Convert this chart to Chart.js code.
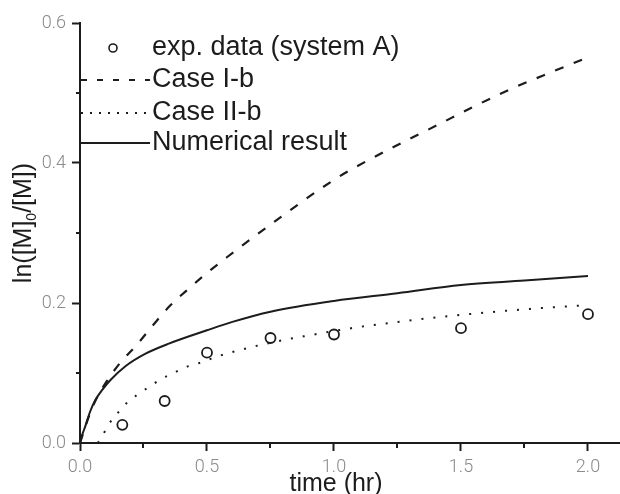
<!DOCTYPE html>
<html><head><meta charset="utf-8">
<script src="https://cdn.jsdelivr.net/npm/chart.js@4.4.1/dist/chart.umd.min.js"></script>
<style>html,body{margin:0;padding:0;background:#fff;}#wrap{width:620px;height:494px;}</style>
</head><body><div id="wrap"><canvas id="c" width="620" height="494"></canvas></div>
<script>
// ---- data ----
const expTime  = [0.1667, 0.3333, 0.5, 0.75, 1.0, 1.5, 2.0];
const expValue = [0.026, 0.060, 0.129, 0.150, 0.155, 0.164, 0.184];

const caseIbTime  = [0, 0.03, 0.06, 0.105, 0.157, 0.223, 0.289, 0.354, 0.433, 0.5, 0.577, 0.75, 1.0, 1.089, 1.252, 1.406, 1.547, 1.705, 1.85, 2.0];
const caseIbValue = [0, 0.033, 0.060, 0.088, 0.114, 0.140, 0.169, 0.196, 0.222, 0.243, 0.265, 0.312, 0.376, 0.395, 0.426, 0.454, 0.480, 0.507, 0.529, 0.551];

const caseIIbTime  = [0.07, 0.085, 0.112, 0.144, 0.184, 0.23, 0.276, 0.322, 0.367, 0.413, 0.459, 0.545, 0.59, 0.682, 0.814, 0.906, 1.05, 1.25, 1.5, 1.75, 2.0];
const caseIIbValue = [0, 0.008, 0.026, 0.041, 0.057, 0.070, 0.081, 0.092, 0.0995, 0.108, 0.113, 0.124, 0.129, 0.1376, 0.148, 0.154, 0.163, 0.173, 0.183, 0.191, 0.197];

const numTime  = [0, 0.01, 0.02, 0.04, 0.06, 0.09, 0.12, 0.18, 0.26, 0.35, 0.5, 0.6, 0.75, 1.0, 1.25, 1.5, 1.75, 2.0];
const numValue = [0, 0.013, 0.023, 0.045, 0.061, 0.077, 0.090, 0.110, 0.128, 0.142, 0.161, 0.173, 0.1876, 0.203, 0.214, 0.2257, 0.232, 0.2386];

const xTickValues = [0, 0.5, 1.0, 1.5, 2.0];
const xTickLabels = ['0.0', '0.5', '1.0', '1.5', '2.0'];
const xMinorTicks = [0.25, 0.75, 1.25, 1.75];
const yTickValues = [0, 0.2, 0.4, 0.6];
const yTickLabels = ['0.0', '0.2', '0.4', '0.6'];
const yMinorTicks = [0.1, 0.3, 0.5];

const seriesNames = ['exp. data (system A)', 'Case I-b', 'Case II-b', 'Numerical result'];
const xTitle = 'time (hr)';
const yTitleParts = ['ln([M]', '0', '/[M])'];

// ---- chart ----
const ink = '#1c1c1c';
const pts = (xs, ys) => xs.map((x, i) => ({x: x, y: ys[i]}));

const extras = {
  id: 'extras',
  afterDraw(chart) {
    const ctx = chart.ctx;
    const xs = chart.scales.x, ys = chart.scales.y;
    const area = chart.chartArea;
    ctx.save();
    // minor ticks
    ctx.strokeStyle = ink; ctx.lineWidth = 2;
    xMinorTicks.forEach(v => {
      const p = Math.round(xs.getPixelForValue(v));
      ctx.beginPath(); ctx.moveTo(p, area.bottom); ctx.lineTo(p, area.bottom + 5); ctx.stroke();
    });
    yMinorTicks.forEach(v => {
      const p = Math.round(ys.getPixelForValue(v));
      ctx.beginPath(); ctx.moveTo(area.left - 4, p); ctx.lineTo(area.left, p); ctx.stroke();
    });
    // x title
    ctx.fillStyle = ink;
    ctx.font = '25px "Liberation Sans", Arial, sans-serif';
    ctx.textAlign = 'center'; ctx.textBaseline = 'middle';
    ctx.fillText(xTitle, xs.getPixelForValue(1.0) + 2, 484);
    // y title with subscript
    const big = '25px "Liberation Sans", Arial, sans-serif';
    const small = '14px "Liberation Sans", Arial, sans-serif';
    ctx.font = big; const w0 = ctx.measureText(yTitleParts[0]).width;
    ctx.font = small; const w1 = ctx.measureText(yTitleParts[1]).width;
    ctx.font = big; const w2 = ctx.measureText(yTitleParts[2]).width;
    const total = w0 + w1 + w2;
    ctx.translate(24, 223);
    ctx.rotate(-Math.PI / 2);
    ctx.textAlign = 'left';
    let cx = -total / 2;
    ctx.font = big; ctx.fillText(yTitleParts[0], cx, 0); cx += w0;
    ctx.font = small; ctx.fillText(yTitleParts[1], cx, 8); cx += w1;
    ctx.font = big; ctx.fillText(yTitleParts[2], cx, 0);
    ctx.restore();

    // legend inside the plot
    ctx.save();
    const rows = [48, 80, 113, 143];
    const x0 = area.left + 1, x1 = area.left + 70, tx = area.left + 72;
    ctx.font = '27px "Liberation Sans", Arial, sans-serif';
    ctx.textAlign = 'left'; ctx.textBaseline = 'middle';
    chart.data.datasets.forEach((ds, i) => {
      const y = rows[i];
      ctx.strokeStyle = ink;
      if (i === 0) {
        ctx.lineWidth = 1.6; ctx.setLineDash([]);
        ctx.beginPath(); ctx.arc(area.left + 33, y, 4, 0, Math.PI * 2); ctx.stroke();
      } else {
        ctx.lineWidth = ds.borderWidth;
        ctx.setLineDash(i === 1 ? [6, 10] : (i === 2 ? [2, 7] : []));
        ctx.beginPath(); ctx.moveTo(x0, y); ctx.lineTo(x1, y); ctx.stroke();
      }
      ctx.setLineDash([]);
      ctx.fillStyle = ink;
      ctx.fillText(ds.label, tx, y);
    });
    ctx.restore();
  }
};

const tickFont = {family: 'Roboto, "Liberation Sans", sans-serif', size: 18, weight: 300};

new Chart(document.getElementById('c'), {
  type: 'scatter',
  data: {
    datasets: [
      {label: seriesNames[0], data: pts(expTime, expValue), showLine: false,
       pointStyle: 'circle', pointRadius: 5, pointBorderWidth: 1.8,
       borderColor: ink, pointBorderColor: ink, pointBackgroundColor: 'rgba(0,0,0,0)', backgroundColor: 'rgba(0,0,0,0)'},
      {label: seriesNames[1], data: pts(caseIbTime, caseIbValue), showLine: true, pointRadius: 0,
       borderColor: ink, borderWidth: 2.2, borderDash: [9, 11], cubicInterpolationMode: 'monotone'},
      {label: seriesNames[2], data: pts(caseIIbTime, caseIIbValue), showLine: true, pointRadius: 0,
       borderColor: ink, borderWidth: 2, borderDash: [2, 10], cubicInterpolationMode: 'monotone'},
      {label: seriesNames[3], data: pts(numTime, numValue), showLine: true, pointRadius: 0,
       borderColor: ink, borderWidth: 2, cubicInterpolationMode: 'monotone'}
    ]
  },
  options: {
    responsive: false, animation: false, devicePixelRatio: 1,
    layout: {autoPadding: false, padding: {top: 23, right: 0, left: 0, bottom: 0}},
    plugins: {legend: {display: false}, tooltip: {enabled: false}},
    scales: {
      x: {
        type: 'linear', min: 0, max: 2.126,
        afterBuildTicks: s => { s.ticks = xTickValues.map(v => ({value: v})); },
        afterFit: s => { s.height = 51; s.paddingLeft = 0; s.paddingRight = 0; },
        ticks: {callback: (v, i) => xTickLabels[i], color: '#8a8a8a', font: tickFont, padding: 6, maxRotation: 0, autoSkip: false},
        grid: {drawOnChartArea: false, drawTicks: true, tickLength: 8, tickWidth: 2, tickColor: ink},
        border: {display: true, color: ink, width: 2},
        title: {display: false}
      },
      y: {
        type: 'linear', min: 0, max: 0.6,
        afterBuildTicks: s => { s.ticks = yTickValues.map(v => ({value: v})); },
        afterFit: s => { s.width = 80; s.paddingTop = 0; s.paddingBottom = 0; },
        ticks: {callback: (v, i) => yTickLabels[i], color: '#8a8a8a', font: tickFont, padding: 6, autoSkip: false},
        grid: {drawOnChartArea: false, drawTicks: true, tickLength: 8, tickWidth: 2, tickColor: ink},
        border: {display: true, color: ink, width: 2},
        title: {display: false}
      }
    }
  },
  plugins: [extras]
});
</script>
</body></html>
